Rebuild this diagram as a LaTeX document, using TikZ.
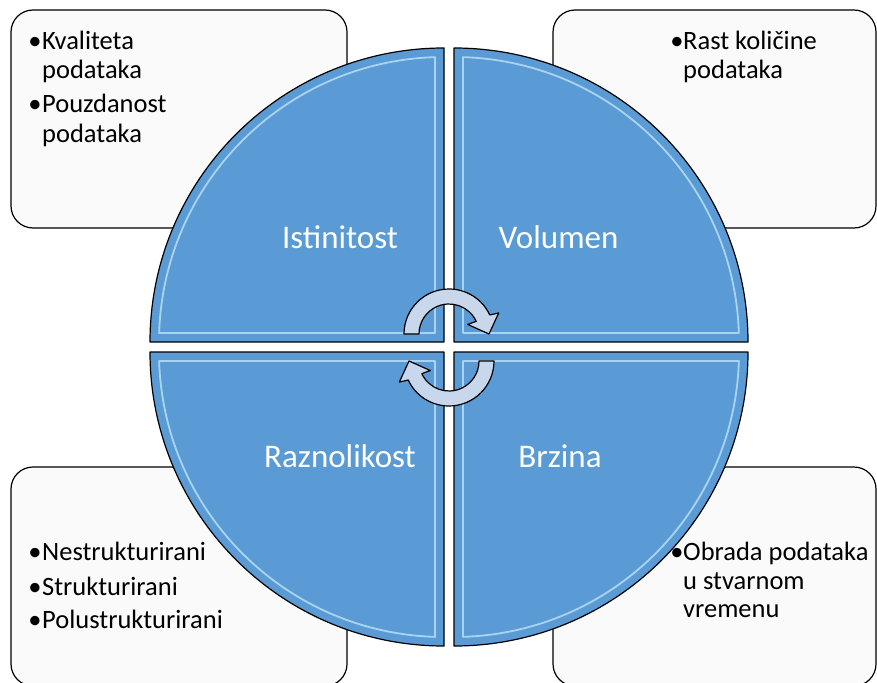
\documentclass[tikz,border=0pt]{standalone}
\usepackage{fontspec}
\setmainfont{Carlito}
\definecolor{qblue}{HTML}{5B9BD5}
\definecolor{qhl}{HTML}{C4E8FA}
\definecolor{boxfill}{HTML}{FAFAFA}
\definecolor{arrfill}{HTML}{C9D7EC}
\tikzset{
  infobox/.style={draw=black, line width=1.2pt, fill=boxfill, rounded corners=22pt},
  quad/.style={draw=black, line width=1.2pt, fill=qblue},
  bevel/.style={draw=qhl, line width=1.8pt, opacity=0.75},
  lbl/.style={anchor=base, inner sep=0pt, text=white, font=\fontsize{33}{36}\selectfont},
  itxt/.style={anchor=base west, inner sep=0pt, font=\fontsize{26.5}{30}\selectfont},
  ibul/.style={anchor=base, inner sep=0pt, font=\fontsize{26.5}{30}\selectfont},
  cyc/.style={draw=black, line width=1.2pt, fill=arrfill, line join=round}
}
\begin{document}
\begin{tikzpicture}[x=1pt, y=-1pt, line join=round]
\useasboundingbox (0,0) rectangle (877,682);

% corner boxes
\path[infobox] (11,10) rectangle (347,228);
\path[infobox] (553,10) rectangle (876,228);
\path[infobox] (11,467) rectangle (347,686);
\path[infobox] (553,467) rectangle (876,686);

% texts in boxes
\node[ibul] (b1) at (35,50) {•};
\node[itxt] (t1) at (42,50) {Kvaliteta};
\node[itxt] (t2) at (42,79) {podataka};
\node[ibul] (b2) at (35,113) {•};
\node[itxt] (t3) at (42,113) {Pouzdanost};
\node[itxt] (t4) at (42,142.5) {podataka};

\node[ibul] (b3) at (677,50) {•};
\node[itxt] (t5) at (683,50) {Rast količine};
\node[itxt] (t6) at (683,79) {podataka};

\node[ibul] (b4) at (35,560.5) {•};
\node[itxt] (t7) at (42,560.5) {Nestrukturirani};
\node[ibul] (b5) at (35,595) {•};
\node[itxt] (t8) at (42,595) {Strukturirani};
\node[ibul] (b6) at (35,628.5) {•};
\node[itxt] (t9) at (42,628.5) {Polustrukturirani};

\node[ibul] (b7) at (677,560.5) {•};
\node[itxt] (t10) at (683,560.5) {Obrada podataka};
\node[itxt] (t11) at (683,589) {u stvarnom};
\node[itxt] (t12) at (683,617.5) {vremenu};

% quadrants
\path[quad] (444,342) -- (150,342) arc[start angle=180, end angle=270, radius=294] -- cycle;
\path[quad] (454,342) -- (454,48) arc[start angle=270, end angle=360, radius=294] -- cycle;
\path[quad] (454,352) -- (748,352) arc[start angle=0, end angle=90, radius=294] -- cycle;
\path[quad] (444,352) -- (444,646) arc[start angle=90, end angle=180, radius=294] -- cycle;

% bevel highlights
\path[bevel] (435,333) -- (159.14,333) arc[start angle=181.81, end angle=268.19, radius=285] -- cycle;
\path[bevel] (463,333) -- (463,57.14) arc[start angle=271.81, end angle=358.19, radius=285] -- cycle;
\path[bevel] (463,361) -- (738.86,361) arc[start angle=1.81, end angle=88.19, radius=285] -- cycle;
\path[bevel] (435,361) -- (435,636.86) arc[start angle=91.81, end angle=178.19, radius=285] -- cycle;

% labels
\node[lbl] (istinitost) at (340,248) {Istinitost};
\node[lbl] (volumen) at (558.5,248) {Volumen};
\node[lbl] (raznolikost) at (340,467) {Raznolikost};
\node[lbl] (brzina) at (560,467) {Brzina};

% circular arrows
\path[cyc] ([shift={(449,334)}]180:45) arc[start angle=180, end angle=335, radius=45]
  -- ([shift={(449,334)}]337:54) -- ([shift={(449,334)}]0:40)
  -- ([shift={(449,334)}]333:21) -- ([shift={(449,334)}]335:30)
  arc[start angle=335, end angle=180, radius=30] -- cycle;
\path[cyc] ([shift={(449,361)}]0:45) arc[start angle=0, end angle=155, radius=45]
  -- ([shift={(449,361)}]157:54) -- ([shift={(449,361)}]180:40)
  -- ([shift={(449,361)}]153:21) -- ([shift={(449,361)}]155:30)
  arc[start angle=155, end angle=0, radius=30] -- cycle;
\end{tikzpicture}
\end{document}
